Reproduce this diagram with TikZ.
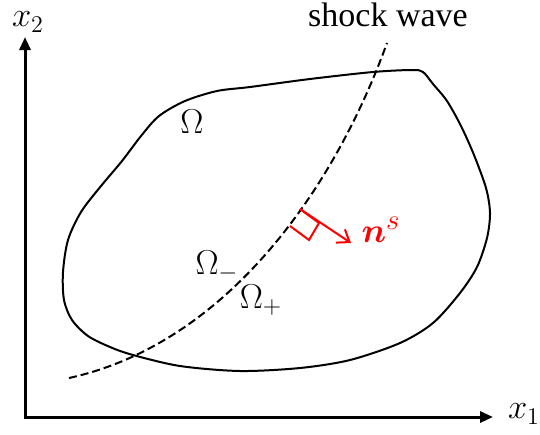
\documentclass[tikz,border=0pt]{standalone}
\usepackage{amsmath}
\usepackage{bm}
\usepackage{fontspec}
\setmainfont{Liberation Serif}
\usetikzlibrary{arrows.meta}
\begin{document}
\begin{tikzpicture}[x=0.5pt,y=-0.5pt,
  axis/.style={line width=1.5pt, line join=miter, {Triangle[length=6.5pt,width=5.5pt]}-{Triangle[length=6.5pt,width=5.5pt]}},
  boundary/.style={line width=1pt},
  shock/.style={line width=1pt, dash pattern=on 4pt off 2pt},
  normalvec/.style={draw=red, line width=1pt},
  mlabel/.style={font=\fontsize{17}{20}\selectfont, inner sep=0pt},
]
\useasboundingbox (0,0) rectangle (540,434);
% axes
\coordinate (O) at (25,417);
\coordinate (Y) at (25,37);
\coordinate (X) at (493,417);
\draw[axis] (Y) -- (O) -- (X);
\node[mlabel] (x2) at (28,22) {$x_2$};
\node[mlabel] (x1) at (524,414) {$x_1$};
% domain boundary
\draw[boundary] plot[smooth cycle, tension=0.5] coordinates {
 (250,87) (310,79) (373,72) (412,70) (423,72) (433,84) (447,101)
 (461,126) (474,155) (486,188) (490,213) (487,238) (477,267) (460,293)
 (433,323) (400,343) (350,360) (300,368) (240,371) (180,366) (133,355)
 (110,347) (88,336) (72,320) (64,300) (63,272) (68,240) (81,212) (101,186)
 (122,161) (141,136) (159,116) (185,101) (217,91)};
% shock wave
\coordinate (s0) at (69,378);
\coordinate (s1) at (387,43);
\draw[shock] (s0) .. controls (220,345) and (330,200) .. (s1);
\node[font=\fontsize{17}{20}\selectfont, inner sep=0pt] (sw) at (388,15) {shock wave};
% labels
\node[mlabel] (om) at (192,122) {$\Omega$};
\node[mlabel] (omm) at (217,266) {$\Omega_-$};
\node[mlabel] (omp) at (261,300) {$\Omega_+$};
% normal vector
\coordinate (P) at (300,209);
\coordinate (T) at (351,243);
\coordinate (R1) at (319,223);
\coordinate (R2) at (309,240);
\coordinate (Q) at (290,226);
\draw[normalvec] (P) -- (R1) -- (R2) -- (Q);
\draw[normalvec, -{Straight Barb[length=5.5pt,width=8pt]}] (P) -- (T);
\node[font=\fontsize{19}{22}\selectfont, inner sep=0pt, text=red] (ns) at (381,230) {$\bm{n}^{s}$};
\end{tikzpicture}
\end{document}
